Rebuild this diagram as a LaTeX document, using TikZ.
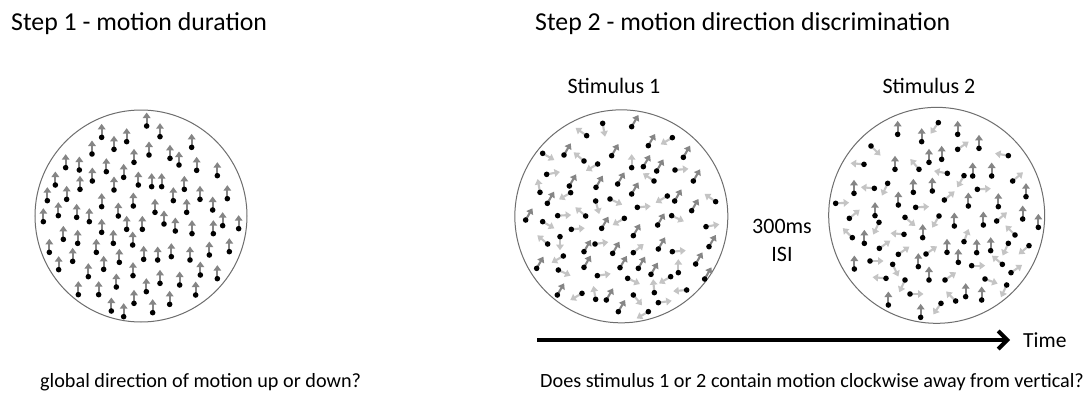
\documentclass[tikz,border=0pt]{standalone}
\usepackage{fontspec}
\setmainfont{Carlito}
\usetikzlibrary{arrows.meta}
\definecolor{darkarr}{HTML}{858585}
\definecolor{lightarr}{HTML}{C4C4C4}
\definecolor{ringcol}{HTML}{6E6E6E}
\tikzset{
  ring/.style={draw=ringcol, line width=1pt},
  dotmark/.style={fill=black},
  darkmove/.style={draw=darkarr, line width=2.1pt, -{Triangle[length=5.5pt,width=7.5pt]}},
  lightmove/.style={draw=lightarr, line width=2.1pt, -{Triangle[length=5.5pt,width=7.5pt]}},
  heading/.style={anchor=base west, inner sep=0pt, font=\fontsize{25.8}{30}\selectfont},
  lbl/.style={anchor=base, inner sep=0pt, font=\fontsize{22}{26}\selectfont},
  question/.style={anchor=base west, inner sep=0pt, font=\fontsize{20.2}{24}\selectfont},
  timearrow/.style={line width=4pt, -{Straight Barb[length=9pt,width=18pt]}}
}
\begin{document}
\begin{tikzpicture}[x=1pt,y=-1pt]
\useasboundingbox (0,0) rectangle (1089,397);
\fill[white] (0,0) rectangle (1089,397);

% headings
\node[heading] (h1) at (11,30) {Step 1 - motion duration};
\node[heading] (h2) at (535,30) {Step 2 - motion direction discrimination};

% circle 1
\begin{scope}[xshift=30pt,yshift=-100pt,x=0.33333pt,y=-0.33333pt]
\draw[ring] (333,348) circle (106pt);
\foreach \px/\py in {350/78,390/110,215/112,290/125,485/142,252/148,186/162,357/165,420/175,447/195,312/187,107/203,148/210,229/215,500/211,187/243,281/232,562/227,76/255,150/268,252/270,325/255,365/260,395/260,463/268,52/302,110/298,430/302,510/298,592/296,215/320,310/318,375/337,470/337,548/330,85/347,140/352,178/365,265/348,40/365,402/372,578/377,626/386,290/388,337/388,436/393,486/401,550/401,215/397,100/418,143/430,250/430,308/435,58/457,199/457,341/478,383/480,424/470,480/480,538/465,598/455,128/484,268/487,86/509,221/508,175/530,309/527,390/550,449/555,511/525,562/536,259/561,349/575,145/584,206/584,312/610,419/613,497/585,244/633,281/650,368/638}
{ \draw[darkmove] (\px,\py) -- ++(90:13.5pt); \fill[dotmark] (\px,\py) circle (2.8pt); }
\end{scope}

% circle 2
\begin{scope}[xshift=505pt,yshift=-100pt,x=0.33333pt,y=-0.33333pt]
\draw[ring] (349,349) circle (106.5pt);
\foreach \px/\py in {380/80,430/137,177/165,320/167,415/200,455/213,535/172,193/258,273/262,338/252,565/243,127/310,380/282,509/303,62/360,290/385,458/375,560/332,385/407,237/455,323/460,460/447,612/440,95/505,237/502,345/503,400/505,438/523,572/492,599/537,157/585,304/600,340/635}
{ \draw[darkmove] (\px,\py) -- ++(60:13.5pt); \fill[dotmark] (\px,\py) circle (2.8pt); }
\foreach \px/\py/\a in {293/70/-80,245/107/145,502/113/210,113/160/-30,237/183/140,278/192/210,380/203/90,510/210/5,125/223/10,105/277/100,447/243/145,197/278/210,272/303/-75,315/297/-25,487/288/210,397/322/5,632/305/145,113/365/-30,158/347/3,242/348/140,358/355/210,500/347/-25,603/380/10,128/432/140,165/410/-90,199/388/5,270/432/8,385/458/40,502/455/5,175/468/210,160/510/-25,277/527/8,368/535/-25,520/518/90,497/530/210,231/580/210,272/598/100,385/585/-50,448/578/95,460/608/8,545/570/185,430/635/210}
{ \draw[lightmove] (\px,\py) -- ++(\a:13.5pt); \fill[dotmark] (\px,\py) circle (2.8pt); }
\end{scope}

% circle 3
\begin{scope}[xshift=825pt,yshift=-100pt,x=0.33333pt,y=-0.33333pt]
\draw[ring] (335,346) circle (108pt);
\foreach \px/\py in {218/103,290/125,398/103,462/145,312/187,350/178,210/208,443/228,500/228,87/280,265/277,322/273,603/290,220/315,430/318,520/320,150/347,388/378,475/375,593/357,640/382,118/430,293/413,366/457,455/458,497/452,88/507,280/500,400/487,312/540,190/615,422/590,470/600,287/652}
{ \draw[darkmove] (\px,\py) -- ++(90:13.5pt); \fill[dotmark] (\px,\py) circle (2.8pt); }
\foreach \px/\py/\a in {340/68/235,138/138/-45,398/148/35,550/167/170,282/208/130,117/193/175,367/220/170,417/227/240,563/243/40,148/265/175,188/250/245,457/268/3,32/310/3,358/300/40,272/322/3,73/355/40,162/367/245,240/352/-40,342/348/240,515/363/40,82/413/135,237/403/175,417/425/70,570/405/135,163/445/35,220/463/35,303/462/35,550/430/245,612/437/220,135/483/0,203/493/-65,440/497/0,532/493/140,558/518/35,183/535/175,240/540/245,360/540/35,480/537/-20,545/555/245,255/582/0,348/610/235,392/603/135}
{ \draw[lightmove] (\px,\py) -- ++(\a:13.5pt); \fill[dotmark] (\px,\py) circle (2.8pt); }
\end{scope}

% labels
\node[lbl] (s1) at (614,93) {Stimulus 1};
\node[lbl] (s2) at (929,93) {Stimulus 2};
\node[lbl] (isi1) at (782,233) {300ms};
\node[lbl] (isi2) at (782,261) {ISI};

% time arrow
\coordinate (ts) at (537,340);
\coordinate (te) at (1010,340);
\draw[timearrow] (ts) -- (te);
\node[anchor=base west, inner sep=0pt, font=\fontsize{21.5}{26}\selectfont] (time) at (1023,347) {Time};

% questions
\node[question] (q1) at (40,387) {global direction of motion up or down?};
\node[question] (q2) at (540,387) {Does stimulus 1 or 2 contain motion clockwise away from vertical?};
\end{tikzpicture}
\end{document}
